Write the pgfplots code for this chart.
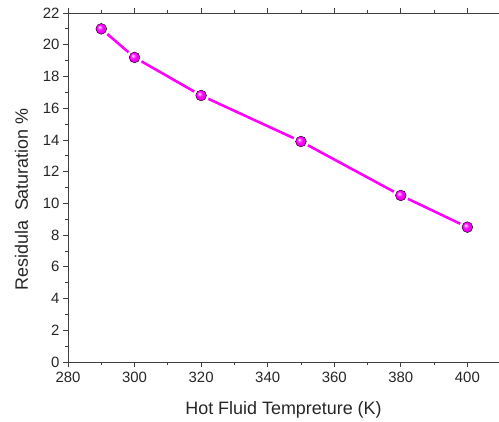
\documentclass[border=0pt]{standalone}
\usepackage{pgfplots}
\pgfplotsset{compat=1.18}
\usepackage{fontspec}
\setmainfont{Liberation Sans}
\definecolor{mag}{RGB}{255,0,255}
\pgfdeclareradialshading{magball}{\pgfqpoint{-9bp}{9bp}}{%
  color(0bp)=(white); color(6bp)=(mag!55!white); color(13bp)=(mag);
  color(30bp)=(mag!88!black); color(38bp)=(mag!70!black); color(50bp)=(mag!60!black)}
\pgfdeclareplotmark{mball}{%
  \shade[shading=magball] (0pt,0pt) circle (\pgfplotmarksize);}

\begin{document}
\begin{tikzpicture}
\begin{axis}[
    scale only axis,
    width=431bp, height=349bp,
    xmin=280, xmax=409.5,
    ymin=0, ymax=22,
    axis x line=box, axis y line=left,
    axis line style={black!75, line width=0.9pt, -},
    xtick={280,300,...,400},
    ytick={0,2,...,22},
    minor x tick num=1,
    minor y tick num=1,
    tick align=outside,
    tick style={black!75, line width=0.8pt},
    major tick length=5bp, minor tick length=3bp,
    xtick pos=both, ytick pos=left,
    /pgf/number format/assume math mode=true,
    ticklabel style={font=\fontsize{15}{16}\selectfont, text=black!85},
    xticklabel style={yshift=-2bp},
    xlabel={Hot Fluid Tempreture (K)},
    ylabel={Residula\ \ Saturation \%},
    label style={font=\fontsize{18}{20}\selectfont, text=black!85},
    xlabel style={yshift=-12bp},
    ylabel style={yshift=8bp, xshift=-12bp},
    clip=false,
]
% line with a white halo round each marker
\addplot[mag, line width=2.6pt, mark=*, mark size=6.6bp,
    mark options={white, draw=white}] coordinates {
    (290,21.0) (300,19.2) (320,16.8) (350,13.9) (380,10.5) (400,8.5)
};
\addplot[only marks, mark=mball, mark size=5.4bp] coordinates {
    (290,21.0) (300,19.2) (320,16.8) (350,13.9) (380,10.5) (400,8.5)
};
\end{axis}
\pgfresetboundingbox
\path[use as bounding box] ([xshift=-68bp,yshift=-60bp]current axis.south west)
    rectangle ([yshift=13bp]current axis.north east);
\end{tikzpicture}
\end{document}
